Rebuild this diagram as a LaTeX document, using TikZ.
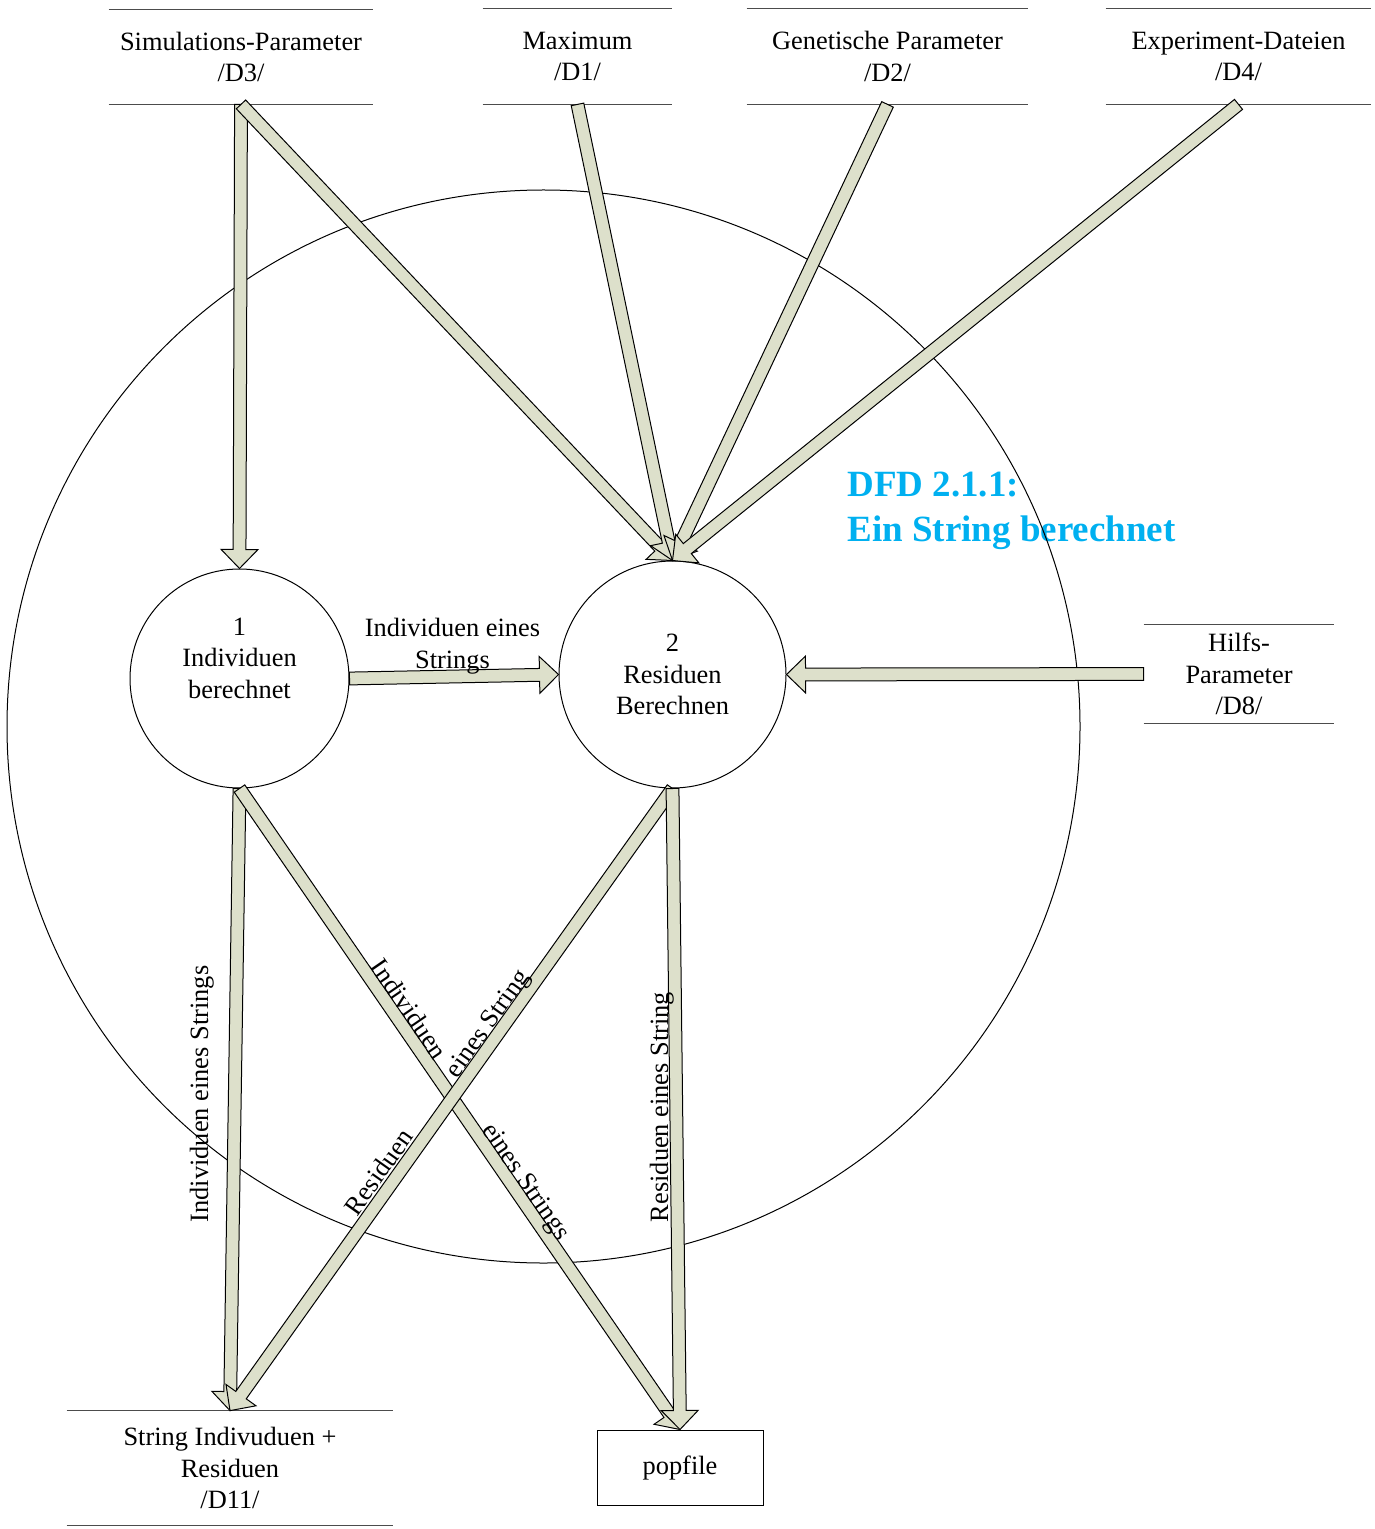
\documentclass[tikz,border=0pt]{standalone}
\usepackage{fontspec}
\setmainfont{Liberation Serif}
\usetikzlibrary{calc, positioning}
\usepackage{xcolor}
\definecolor{flowfill}{RGB}{221,224,203}
\definecolor{titleblue}{RGB}{0,176,240}
\def\shaftw{3.2pt}
\def\headw{9.2pt}
\def\headl{9.5pt}

% block arrow from #1 to #2 (tip at #2)
\newcommand{\flowarrow}[2]{%
  \coordinate (fa-h) at ($(#2)!\headl!(#1)$);
  \draw[dataflow] ($(#1)!\shaftw!90:(#2)$) -- ($(fa-h)!\shaftw!-90:(#1)$)
    -- ($(fa-h)!\headw!-90:(#1)$) -- (#2) -- ($(fa-h)!\headw!90:(#1)$)
    -- ($(fa-h)!\shaftw!90:(#1)$) -- ($(#1)!\shaftw!-90:(#2)$) -- cycle;
}

\begin{document}
\begin{tikzpicture}[x=0.5pt, y=-0.5pt, font=\fontsize{13.2}{15.8}\selectfont]
    \tikzstyle{dataflow}=[draw=black, fill=flowfill, line width=0.5pt, line join=miter]
    \tikzstyle{process}=[circle, draw=black, line width=0.5pt, align=center, inner sep=0pt]
    \tikzstyle{store}=[align=center, inner sep=0pt]
    \tikzstyle{storeline}=[draw=black!70, line width=0.6pt]
    \tikzstyle{flowlabel}=[inner sep=0pt, anchor=base]

    \useasboundingbox (0,0) rectangle (1374,1529);

    \node[anchor=west, align=left, inner sep=0pt, text=titleblue,
          font=\fontsize{18.5}{22.5}\selectfont\bfseries] (title) at (847,511) {DFD 2.1.1:\\Ein String berechnet};

%   context of the process
    \node[circle, draw=black, line width=0.5pt, minimum size=536.5pt] (ctx) at (543.5,726.5) {};

    \node[store, minimum width=132pt, minimum height=47pt] (d3) at (241,57) {Simulations-Parameter\\/D3/};
    \node[store, minimum width=94.5pt, minimum height=47.5pt] (d1) at (577.5,56.5) {Maximum\\/D1/};
    \node[store, minimum width=140.5pt, minimum height=47.5pt] (d2) at (887.5,56.5) {Genetische Parameter\\/D2/};
    \node[store, minimum width=132.5pt, minimum height=47.5pt] (d4) at (1238.5,56.5) {Experiment-Dateien\\/D4/};
    \node[store, minimum width=95pt, minimum height=49pt] (d8) at (1239,674) {Hilfs-\\Parameter\\/D8/};
    \node[store, minimum width=163pt, minimum height=57pt] (d11) at (230,1468) {String Indivuduen +\\Residuen\\/D11/};
    \node[draw=black, line width=0.5pt, minimum width=83pt, minimum height=37.5pt] (pop) at (680,1467.5) {popfile};

    \foreach \s in {d3,d1,d2,d4,d8,d11}
        \draw[storeline] (\s.north west) -- (\s.north east) (\s.south west) -- (\s.south east);

    \node[process, minimum size=109.5pt] (p1) at (239.5,678.5) {1\\Individuen\\berechnet\\\strut};
    \node[process, minimum size=113.5pt] (p2) at (672.5,674.5) {2\\Residuen\\Berechnen};

    \flowarrow{d3.south}{p1.north}
    \foreach \s in {d3,d1,d2,d4}{
        \flowarrow{\s.south}{p2.north}
    }
    \flowarrow{p1.east}{p2.west}
    \flowarrow{d8.west}{p2.east}
    \flowarrow{p1.south}{d11.north}
    \flowarrow{p1.south}{pop.north}
    \flowarrow{p2.south}{d11.north}
    \flowarrow{p2.south}{pop.north}

    \node[align=center, inner sep=0pt] (l-12) at (452.5,646) {Individuen eines\\Strings};
    \node[flowlabel, rotate=90] (l-1s) at (208,1094) {Individuen eines Strings};
    \node[flowlabel, rotate=90] (l-2p) at (668,1107) {Residuen eines String};
    \node[flowlabel, rotate=-55.5] (l-1pa) at (402,1014) {Individuen};
    \node[flowlabel, rotate=-55.5] (l-1pb) at (520,1186) {eines Strings};
    \node[flowlabel, rotate=54.6] (l-2sa) at (386,1177) {Residuen};
    \node[flowlabel, rotate=54.6] (l-2sb) at (494,1028) {eines String};
\end{tikzpicture}
\end{document}
